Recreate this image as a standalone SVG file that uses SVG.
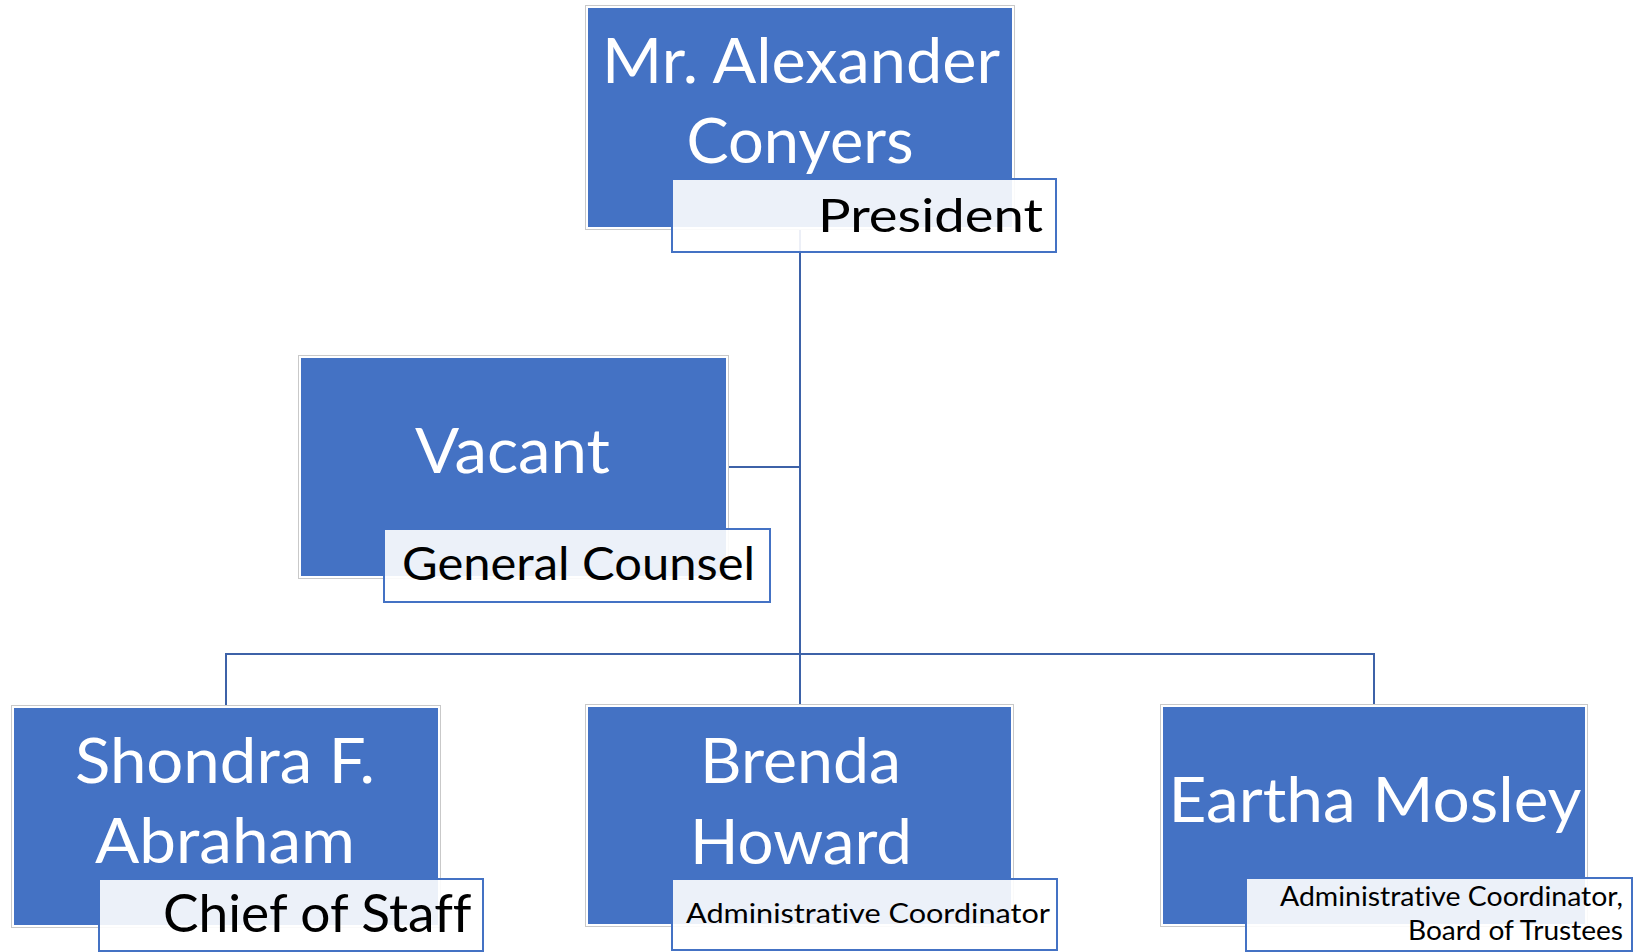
<svg xmlns="http://www.w3.org/2000/svg" width="1635" height="952" viewBox="0 0 1635 952">
<style>
text{font-variant-ligatures:none;font-feature-settings:"liga" 0,"clig" 0,"dlig" 0}
.frame{fill:none;stroke:#c9c9c9;stroke-width:1}
.box{fill:#4472c4;stroke:#ffffff;stroke-width:2}
.tbox{fill:#ffffff;fill-opacity:0.9;stroke:#4472c4;stroke-width:2}
.name{font-family:Lato,"Open Sans","Liberation Sans",sans-serif;font-size:62px;fill:#ffffff;text-anchor:middle}
.title{font-family:Lato,"Open Sans","Liberation Sans",sans-serif;fill:#000000;text-anchor:end}
.conn{fill:none;stroke:#3d62a8;stroke-width:2}
</style>
<rect width="1635" height="952" fill="#ffffff"/>
<g id="connectors">
<path class="conn" d="M800,228 V706"/>
<path class="conn" d="M727,467 H800"/>
<path class="conn" d="M226,706 V654 H1374 V706"/>
</g>
<g id="node-president">
<rect class="frame" x="585.5" y="5.5" width="429" height="224"/>
<rect class="box" x="587" y="7" width="426" height="221"/>
<text class="name" x="801" y="83" textLength="398" lengthAdjust="spacingAndGlyphs">Mr. Alexander</text>
<text class="name" x="800" y="163" textLength="227" lengthAdjust="spacingAndGlyphs">Conyers</text>
<rect class="tbox" x="672" y="179" width="384" height="73"/>
<text class="title" x="1043" y="232" font-size="47" textLength="225" lengthAdjust="spacingAndGlyphs">President</text>
</g>
<g id="node-counsel">
<rect class="frame" x="298.5" y="355.5" width="430" height="223"/>
<rect class="box" x="300" y="357" width="427" height="220"/>
<text class="name" x="512.5" y="473" textLength="195" lengthAdjust="spacingAndGlyphs">Vacant</text>
<rect class="tbox" x="384" y="529" width="386" height="73"/>
<text class="title" x="755" y="580" font-size="46" textLength="353" lengthAdjust="spacingAndGlyphs">General Counsel</text>
</g>
<g id="node-chief">
<rect class="frame" x="11.5" y="705.5" width="429" height="222"/>
<rect class="box" x="13" y="707" width="426" height="219"/>
<text class="name" x="225" y="783" textLength="300" lengthAdjust="spacingAndGlyphs">Shondra F.</text>
<text class="name" x="225" y="863" textLength="260" lengthAdjust="spacingAndGlyphs">Abraham</text>
<rect class="tbox" x="99" y="879" width="384" height="72"/>
<text class="title" x="471.5" y="932" font-size="53" textLength="308.5" lengthAdjust="spacingAndGlyphs">Chief of Staff</text>
</g>
<g id="node-brenda">
<rect class="frame" x="585.5" y="704.5" width="428" height="222"/>
<rect class="box" x="587" y="706" width="425" height="219"/>
<text class="name" x="800.5" y="783" textLength="201" lengthAdjust="spacingAndGlyphs">Brenda</text>
<text class="name" x="801" y="864" textLength="222" lengthAdjust="spacingAndGlyphs">Howard</text>
<rect class="tbox" x="672" y="879" width="385" height="71"/>
<text class="title" x="1050" y="923" font-size="27" textLength="364" lengthAdjust="spacingAndGlyphs">Administrative Coordinator</text>
</g>
<g id="node-eartha">
<rect class="frame" x="1160.5" y="704.5" width="427" height="222"/>
<rect class="box" x="1162" y="706" width="424" height="219"/>
<text class="name" x="1375" y="822" textLength="413" lengthAdjust="spacingAndGlyphs">Eartha Mosley</text>
<rect class="tbox" x="1246" y="878" width="386" height="73"/>
<text class="title" x="1623" y="906" font-size="26" textLength="343" lengthAdjust="spacingAndGlyphs">Administrative Coordinator,</text>
<text class="title" x="1623" y="940" font-size="26" textLength="215" lengthAdjust="spacingAndGlyphs">Board of Trustees</text>
</g>
</svg>
